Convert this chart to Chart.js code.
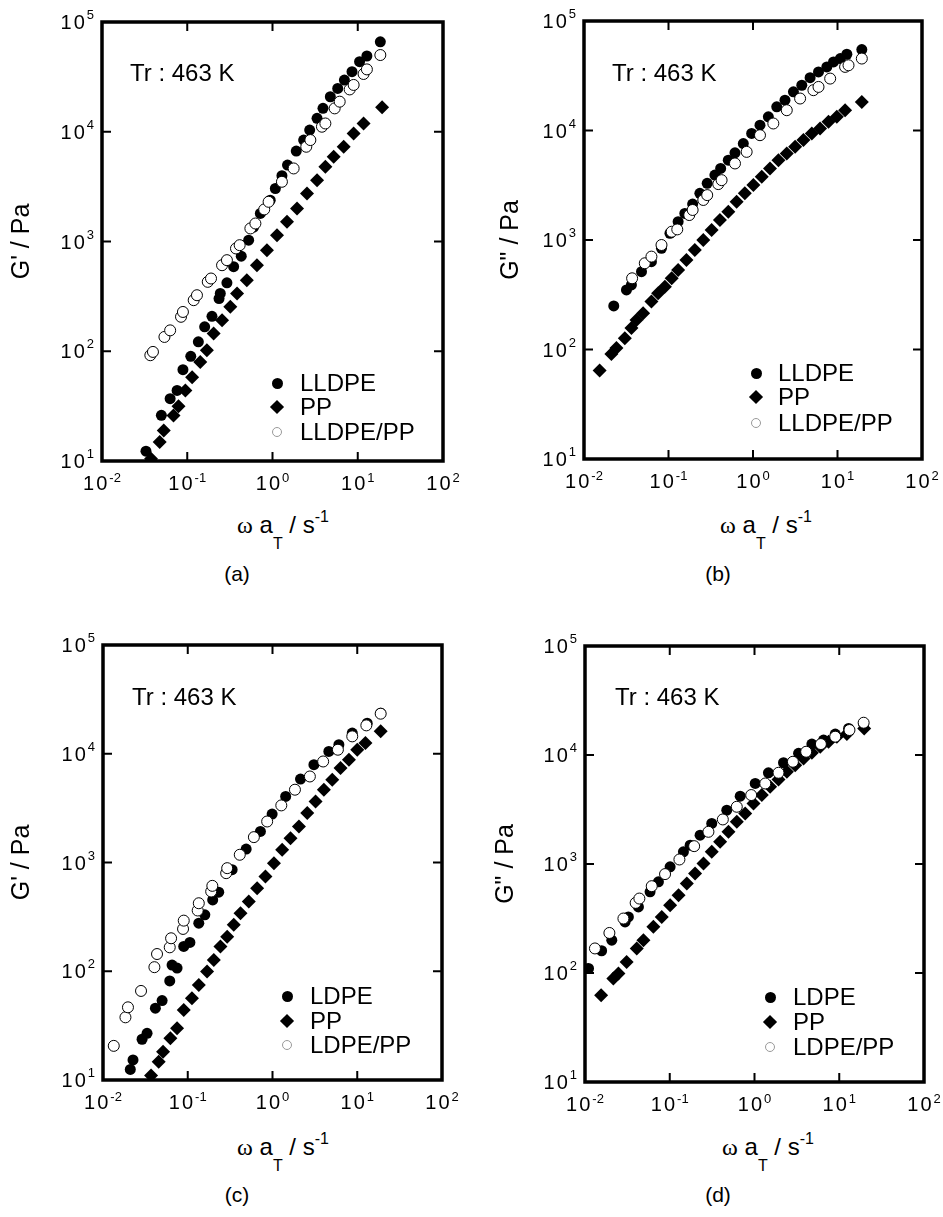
<!DOCTYPE html>
<html>
<head>
<meta charset="utf-8">
<script src="https://cdn.jsdelivr.net/npm/chart.js@4.4.1/dist/chart.umd.min.js"></script>
<style>
  body { margin: 0; background: #fff; font-family: "Liberation Sans", Arial, sans-serif; color: #000; }
  #page { position: relative; width: 943px; height: 1217px; overflow: hidden; }
  canvas { position: absolute; }
  .t { position: absolute; white-space: nowrap; line-height: 1; }
  .tr, .leg { font-size: 24px; }
  .xt { font-size: 24px; transform: translateX(-50%); }
  .xt .w { font-family: "Liberation Serif", serif; }
  .xt .sb { font-size: 16px; position: relative; top: 16px; }
  .xt .sp { font-size: 16px; position: relative; top: -11px; }
  .lab { font-size: 21px; transform: translateX(-50%); }
  .mk { position: absolute; box-sizing: border-box; }
  .mk.dot { width: 11px; height: 11px; border-radius: 50%; background: #000; }
  .mk.dia { width: 10px; height: 10px; background: #000; transform: rotate(45deg); }
  .mk.ring { width: 10px; height: 10px; border-radius: 50%; border: 1px solid #999; background: #fff; }
</style>
</head>
<body>
<div id="page">
  <canvas id="ca" width="470" height="500" style="left:0;top:0"></canvas>
  <canvas id="cb" width="473" height="500" style="left:470px;top:0"></canvas>
  <canvas id="cc" width="470" height="500" style="left:0;top:620px"></canvas>
  <canvas id="cd" width="473" height="500" style="left:470px;top:620px"></canvas>
</div>
<script>
// decade ticks, labelled as 10^exp
const xTickVals = [0.01, 0.1, 1, 10, 100];
const xTickExp = ['-2', '-1', '0', '1', '2'];
const yTickVals = [10, 100, 1000, 10000, 100000];
const yTickExp = ['1', '2', '3', '4', '5'];

// (a) G' LLDPE / PP / LLDPE-PP
const aLldpeW = [0.0328, 0.0497, 0.063, 0.076, 0.089, 0.11, 0.135, 0.16, 0.195, 0.236, 0.244, 0.292, 0.35, 0.43, 0.525, 0.6, 0.72, 0.94, 1.08, 1.29, 1.5, 1.9, 2.32, 2.73, 3.33, 3.91, 4.77, 5.82, 6.97, 8.56, 10.5, 12.8, 18.4];
const aLldpeG = [12.3, 26.1, 37, 44, 68, 90, 122, 167, 208, 302, 336, 420, 589, 735, 1028, 1350, 1800, 2380, 3040, 3980, 4970, 6670, 8400, 10360, 13240, 16330, 20840, 24840, 29580, 35240, 43500, 49000, 66000];
const aPpW = [0.0376, 0.0475, 0.053, 0.069, 0.079, 0.095, 0.114, 0.142, 0.17, 0.204, 0.256, 0.32, 0.384, 0.5, 0.657, 0.86, 1.13, 1.48, 1.94, 2.54, 3.33, 4.17, 5.22, 6.84, 8.95, 11.7, 19.3];
const aPpG = [10.5, 14.9, 19, 26, 31.6, 44, 58, 80, 102, 145, 192, 254, 336, 444, 608, 834, 1143, 1510, 2000, 2740, 3620, 4790, 5910, 7300, 9660, 11900, 16700];
const aBlendW = [0.0369, 0.0396, 0.054, 0.063, 0.0845, 0.089, 0.119, 0.13, 0.174, 0.19, 0.256, 0.292, 0.373, 0.412, 0.55, 0.63, 0.8, 0.9, 1.29, 1.77, 2.49, 2.78, 3.8, 4.17, 5.36, 6.14, 8.04, 8.95, 11.7, 12.8, 18.4];
const aBlendG = [92, 98.6, 135, 155, 206, 228, 292, 324, 429, 460, 608, 676, 864, 926, 1315, 1459, 1960, 2300, 3500, 4630, 7300, 8400, 11110, 11900, 16330, 18800, 24300, 26700, 33600, 37000, 50000];

// (b) G'' LLDPE / PP / LLDPE-PP
const bLldpeW = [0.0225, 0.0318, 0.0364, 0.0479, 0.0628, 0.0826, 0.104, 0.13, 0.156, 0.193, 0.235, 0.287, 0.354, 0.414, 0.51, 0.612, 0.768, 0.964, 1.21, 1.52, 1.91, 2.39, 3.01, 3.78, 4.74, 5.96, 7.48, 8.97, 10.8, 12.9, 19.4];
const bLldpeG = [250, 350, 389, 514, 634, 840, 1150, 1470, 1750, 2130, 2670, 3290, 3920, 4500, 5360, 6250, 7600, 9400, 11190, 13340, 16450, 18920, 22540, 25900, 30400, 34300, 38100, 42300, 45400, 49700, 54800];
const bPpW = [0.0153, 0.0211, 0.0242, 0.0304, 0.0364, 0.0418, 0.0501, 0.0628, 0.0754, 0.0906, 0.109, 0.13, 0.163, 0.205, 0.258, 0.324, 0.406, 0.51, 0.64, 0.8, 1.01, 1.27, 1.59, 2.0, 2.51, 3.15, 3.95, 4.97, 6.22, 7.82, 9.82, 12.3, 19.4];
const bPpG = [64.4, 91, 103, 127, 157, 186, 214, 274, 326, 375, 447, 532, 658, 811, 1000, 1233, 1520, 1810, 2240, 2670, 3180, 3780, 4500, 5360, 6170, 7100, 8170, 9400, 10430, 12000, 13340, 15320, 18240];
const bBlendW = [0.0371, 0.0524, 0.0628, 0.0826, 0.109, 0.127, 0.176, 0.193, 0.258, 0.287, 0.388, 0.425, 0.612, 0.841, 1.21, 1.74, 2.51, 3.61, 5.19, 5.96, 8.19, 12.3, 13.5, 19.4];
const bBlendG = [447, 613, 705, 900, 1190, 1250, 1690, 1880, 2320, 2570, 3240, 3520, 5000, 6380, 9060, 11590, 15320, 19590, 23350, 25000, 29790, 38100, 39400, 45400];

// (c) G' LDPE / PP / LDPE-PP
const cLdpeW = [0.021, 0.0226, 0.0289, 0.0331, 0.0415, 0.0498, 0.0613, 0.0653, 0.0748, 0.0897, 0.106, 0.135, 0.159, 0.197, 0.232, 0.334, 0.489, 0.72, 0.99, 1.43, 2.14, 3.08, 4.62, 6.07, 8.73, 13.1, 18.9];
const cLdpeG = [12.5, 15.3, 23.7, 26.9, 45.7, 53.7, 81.5, 114, 107, 169, 184, 277, 330, 453, 533, 858, 1328, 1930, 2786, 4050, 5850, 7930, 10500, 12100, 15500, 19100, 23600];
const cPpW = [0.0369, 0.0454, 0.0511, 0.0624, 0.0748, 0.0897, 0.112, 0.135, 0.169, 0.203, 0.243, 0.292, 0.349, 0.419, 0.525, 0.659, 0.826, 1.04, 1.3, 1.63, 2.05, 2.57, 3.22, 4.04, 5.07, 6.35, 7.98, 10, 12.5, 18.9];
const cPpG = [11, 14.7, 18.2, 24.2, 29.9, 44, 56.5, 74.8, 99.3, 127, 169, 208, 267, 342, 438, 581, 743, 986, 1309, 1675, 2145, 2845, 3640, 4670, 5770, 7380, 8810, 10890, 12530, 16070];
const cBlendW = [0.0134, 0.0184, 0.0197, 0.0281, 0.0404, 0.0434, 0.0613, 0.0636, 0.088, 0.0897, 0.131, 0.135, 0.189, 0.195, 0.284, 0.292, 0.411, 0.603, 0.865, 1.27, 1.84, 2.76, 3.96, 5.91, 8.73, 12.8, 18.9];
const cBlendG = [20.6, 37.7, 46.6, 65.9, 109, 144, 166, 201, 245, 292, 362, 422, 541, 610, 798, 887, 1178, 1711, 2383, 3350, 4670, 6180, 8490, 10890, 14450, 18240, 23350];

// (d) G'' LDPE / PP / LDPE-PP
const dLdpeW = [0.011, 0.0157, 0.0207, 0.0297, 0.0325, 0.0427, 0.0586, 0.0735, 0.101, 0.145, 0.174, 0.228, 0.313, 0.471, 0.678, 1.02, 1.46, 2.2, 3.31, 4.75, 6.53, 8.97, 12.9, 19.4];
const dLdpeG = [110, 160, 200, 294, 327, 404, 555, 686, 942, 1294, 1489, 1840, 2355, 3120, 4190, 5480, 6870, 8490, 10350, 12600, 13700, 15560, 17540, 19230];
const dPpW = [0.0155, 0.0216, 0.0248, 0.031, 0.0408, 0.0489, 0.0641, 0.0805, 0.101, 0.127, 0.159, 0.199, 0.25, 0.313, 0.393, 0.493, 0.618, 0.776, 0.973, 1.22, 1.53, 1.92, 2.41, 3.02, 3.79, 4.75, 5.97, 7.48, 9.38, 12.3, 19.7];
const dPpG = [62.5, 89, 98.8, 126, 168, 200, 265, 327, 419, 518, 662, 818, 1012, 1294, 1600, 1974, 2440, 2910, 3590, 4290, 5110, 5970, 7020, 8070, 9310, 10490, 11910, 13240, 14720, 15560, 17540];
const dBlendW = [0.0131, 0.0194, 0.0284, 0.0396, 0.0438, 0.0613, 0.088, 0.13, 0.194, 0.286, 0.423, 0.618, 0.914, 1.34, 1.92, 2.84, 4.07, 6.07, 8.97, 13.2, 19.4];
const dBlendG = [168, 233, 316, 440, 482, 626, 808, 1100, 1458, 1974, 2563, 3350, 4290, 5480, 6870, 8670, 10710, 12600, 14720, 16950, 19770];

const FONT = '"Liberation Sans", Arial, sans-serif';
const pts = (xs, ys) => xs.map((x, i) => ({ x: x, y: ys[i] }));

// "10" with a small raised exponent; align 'center' or 'right'
function drawPow(ctx, exp, x, base, align, raise) {
    ctx.font = '20px ' + FONT;
    ctx.letterSpacing = '2px';
    const w1 = ctx.measureText('10').width;
    ctx.font = '13px ' + FONT;
    ctx.letterSpacing = '0px';
    const w2 = ctx.measureText(exp).width;
    const x0 = align === 'center' ? x - (w1 + w2) / 2 : x - w1 - w2;
    ctx.font = '20px ' + FONT;
    ctx.letterSpacing = '2px';
    ctx.fillText('10', x0, base);
    ctx.font = '13px ' + FONT;
    ctx.letterSpacing = '0px';
    ctx.fillText(exp, x0 + w1, base - raise);
}

// inward decade ticks, heavy frame and tick labels
const framePlugin = {
    id: 'frame',
    afterDatasetsDraw(chart) {
        const ctx = chart.ctx, a = chart.chartArea;
        const x = chart.scales.x, y = chart.scales.y;
        const len = 9;
        ctx.save();
        ctx.strokeStyle = '#000';
        ctx.lineWidth = 2;
        ctx.beginPath();
        xTickVals.slice(1, -1).forEach(v => {
            const px = x.getPixelForValue(v);
            ctx.moveTo(px, a.bottom); ctx.lineTo(px, a.bottom - len);
            ctx.moveTo(px, a.top); ctx.lineTo(px, a.top + len);
        });
        yTickVals.slice(1, -1).forEach(v => {
            const py = y.getPixelForValue(v);
            ctx.moveTo(a.left, py); ctx.lineTo(a.left + len, py);
            ctx.moveTo(a.right, py); ctx.lineTo(a.right - len, py);
        });
        ctx.stroke();
        ctx.lineWidth = 3.5;
        ctx.strokeRect(a.left, a.top, a.right - a.left, a.bottom - a.top);

        ctx.fillStyle = '#000';
        ctx.textAlign = 'left';
        ctx.textBaseline = 'alphabetic';
        xTickVals.forEach((v, i) => {
            drawPow(ctx, xTickExp[i], x.getPixelForValue(v), a.bottom + 29, 'center', 8);
        });
        yTickVals.forEach((v, i) => {
            drawPow(ctx, yTickExp[i], a.left - 8, y.getPixelForValue(v) + 7, 'right', 10);
        });
        ctx.restore();
    }
};

function filled(data) {
    return { data: data, pointStyle: 'circle', pointRadius: 5.5, pointBackgroundColor: '#000', pointBorderColor: '#000', pointBorderWidth: 0, order: 1 };
}
function diamonds(data) {
    return { data: data, pointStyle: 'rectRot', pointRadius: 7, pointBackgroundColor: '#000', pointBorderColor: '#000', pointBorderWidth: 0, order: 2 };
}
function open(data) {
    return { data: data, pointStyle: 'circle', pointRadius: 5.5, pointBackgroundColor: '#fff', pointBorderColor: '#000', pointBorderWidth: 1, order: 0 };
}

function makePanel(id, p, datasets) {
    return new Chart(document.getElementById(id), {
        type: 'scatter',
        data: { datasets: datasets },
        options: {
            responsive: false,
            animation: false,
            events: [],
            layout: { padding: { top: p.top, right: p.right, bottom: 0, left: 0 } },
            plugins: { legend: { display: false }, tooltip: { enabled: false } },
            scales: {
                x: {
                    type: 'logarithmic', min: 0.01, max: 100,
                    grid: { display: false }, border: { display: false },
                    afterBuildTicks: s => { s.ticks = xTickVals.map(v => ({ value: v })); },
                    afterFit: s => { s.height = p.xh; },
                    ticks: { display: false }
                },
                y: {
                    type: 'logarithmic', min: 10, max: 100000,
                    grid: { display: false }, border: { display: false },
                    afterBuildTicks: s => { s.ticks = yTickVals.map(v => ({ value: v })); },
                    afterFit: s => { s.width = p.yw; },
                    ticks: { display: false },
                    title: {
                        display: true, text: p.title, color: '#000',
                        font: { family: FONT, size: 25 },
                        padding: { top: p.tp, bottom: 0 }
                    }
                }
            }
        },
        plugins: [framePlugin]
    });
}

makePanel('ca', { top: 22, right: 27, xh: 39, yw: 102, tp: 7, title: "G' / Pa" },
    [filled(pts(aLldpeW, aLldpeG)), diamonds(pts(aPpW, aPpG)), open(pts(aBlendW, aBlendG))]);
makePanel('cb', { top: 21, right: 21, xh: 41, yw: 114, tp: 26, title: 'G" / Pa' },
    [filled(pts(bLldpeW, bLldpeG)), diamonds(pts(bPpW, bPpG)), open(pts(bBlendW, bBlendG))]);
makePanel('cc', { top: 25, right: 28, xh: 40, yw: 103, tp: 7, title: "G' / Pa" },
    [filled(pts(cLdpeW, cLdpeG)), diamonds(pts(cPpW, cPpG)), open(pts(cBlendW, cBlendG))]);
makePanel('cd', { top: 26, right: 19, xh: 38, yw: 115, tp: 21, title: 'G" / Pa' },
    [filled(pts(dLdpeW, dLdpeG)), diamonds(pts(dPpW, dPpG)), open(pts(dBlendW, dBlendG))]);

// text overlays
const page = document.getElementById('page');
function put(cls, html, left, top) {
    const el = document.createElement('div');
    el.className = 't ' + cls;
    el.innerHTML = html;
    el.style.left = left + 'px';
    el.style.top = top + 'px';
    page.appendChild(el);
    return el;
}
function mark(kind, cx, cy) {
    const el = document.createElement('div');
    el.className = 'mk ' + kind;
    page.appendChild(el);
    el.style.left = (cx - el.offsetWidth / 2) + 'px';
    el.style.top = (cy - el.offsetHeight / 2) + 'px';
}

const xTitle = '<span class="w">ω</span> a<span class="sb">T</span> / s<span class="sp">-1</span>';
const panels = [
    { names: ['LLDPE', 'PP', 'LLDPE/PP'], tr: [130, 81], mx: 277, tx: 300, rows: [383, 407, 432], xt: [283, 533], lab: [237, 573, '(a)'] },
    { names: ['LLDPE', 'PP', 'LLDPE/PP'], tr: [612, 81], mx: 756, tx: 778, rows: [373, 397, 423], xt: [766, 533], lab: [718, 573, '(b)'] },
    { names: ['LDPE', 'PP', 'LDPE/PP'], tr: [132, 705], mx: 287, tx: 310, rows: [996, 1021, 1045], xt: [283, 1155], lab: [237, 1194, '(c)'] },
    { names: ['LDPE', 'PP', 'LDPE/PP'], tr: [615, 705], mx: 770, tx: 793, rows: [997, 1022, 1047], xt: [768, 1155], lab: [718, 1194, '(d)'] }
];
const kinds = ['dot', 'dia', 'ring'];
panels.forEach(p => {
    put('tr', 'Tr : 463 K', p.tr[0], p.tr[1] - 20);
    p.names.forEach((n, i) => {
        mark(kinds[i], p.mx, p.rows[i]);
        put('leg', n, p.tx, p.rows[i] - 12);
    });
    put('xt', xTitle, p.xt[0], p.xt[1] - 20);
    put('lab', p.lab[2], p.lab[0], p.lab[1] - 10);
});
</script>
</body>
</html>
